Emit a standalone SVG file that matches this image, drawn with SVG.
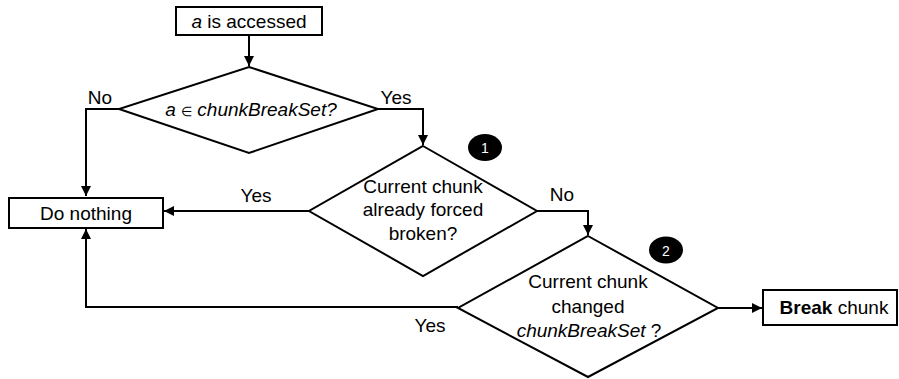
<svg xmlns="http://www.w3.org/2000/svg" width="899" height="379" viewBox="0 0 899 379">
<style>
.box{fill:#fff;stroke:#000;stroke-width:2}
.dia{fill:#fff;stroke:#000;stroke-width:2}
.ln{fill:none;stroke:#000;stroke-width:2}
text{font-family:"Liberation Sans",Arial,sans-serif;font-size:19px;fill:#000}
.c{text-anchor:middle}
.num{font-size:14px;fill:#fff;text-anchor:middle}
</style>
<defs>
<marker id="ah" viewBox="0 0 10 10" refX="10" refY="5" markerWidth="5" markerHeight="5" orient="auto" markerUnits="strokeWidth">
<path d="M0,0 L10,5 L0,10 Z" fill="#000"/>
</marker>
</defs>
<g id="connectors">
<path class="ln" d="M249,35 V66" marker-end="url(#ah)"/>
<path class="ln" d="M119,109 H86 V196" marker-end="url(#ah)"/>
<path class="ln" d="M378,109 H423 V145" marker-end="url(#ah)"/>
<path class="ln" d="M309,211 H164" marker-end="url(#ah)"/>
<path class="ln" d="M537,211 H588 V235" marker-end="url(#ah)"/>
<path class="ln" d="M458,307 H86 V229" marker-end="url(#ah)"/>
<path class="ln" d="M718,308 H762" marker-end="url(#ah)"/>
<text x="100" y="104" class="c">No</text>
<text x="396" y="104" class="c">Yes</text>
<text x="256" y="202" class="c">Yes</text>
<text x="562" y="201" class="c">No</text>
<text x="430" y="332" class="c">Yes</text>
</g>
<g id="start">
<rect class="box" x="176" y="7" width="146" height="28"/>
<text x="249" y="28" class="c"><tspan font-style="italic">a</tspan> is accessed</text>
</g>
<g id="decision1">
<path class="dia" d="M249,67 L378,109 L249,153 L119,109 Z"/>
<text x="251" y="116" class="c" font-style="italic">a <tspan font-size="13" font-style="normal">∈</tspan> chunkBreakSet?</text>
</g>
<g id="donothing">
<rect class="box" x="9" y="198" width="154" height="30"/>
<text x="86" y="220" class="c">Do nothing</text>
</g>
<g id="decision2">
<path class="dia" d="M423,146 L537,211 L423,276 L309,211 Z"/>
<text x="423" y="193" class="c">Current chunk</text>
<text x="423" y="216" class="c">already forced</text>
<text x="423" y="240" class="c">broken?</text>
</g>
<g id="badge1">
<ellipse cx="485" cy="147.5" rx="17" ry="13.5" fill="#000"/>
<text x="485" y="153" class="num">1</text>
</g>
<g id="decision3">
<path class="dia" d="M588,236 L718,308 L588,377 L458,308 Z"/>
<text x="588" y="288" class="c">Current chunk</text>
<text x="588" y="313" class="c">changed</text>
<text x="589" y="337" class="c"><tspan font-style="italic">chunkBreakSet</tspan> ?</text>
</g>
<g id="badge2">
<ellipse cx="666" cy="250" rx="17" ry="13.5" fill="#000"/>
<text x="666" y="255.5" class="num">2</text>
</g>
<g id="breakchunk">
<rect class="box" x="763" y="290" width="134" height="35"/>
<text x="834" y="314" class="c"><tspan font-weight="bold">Break</tspan> chunk</text>
</g>
</svg>
